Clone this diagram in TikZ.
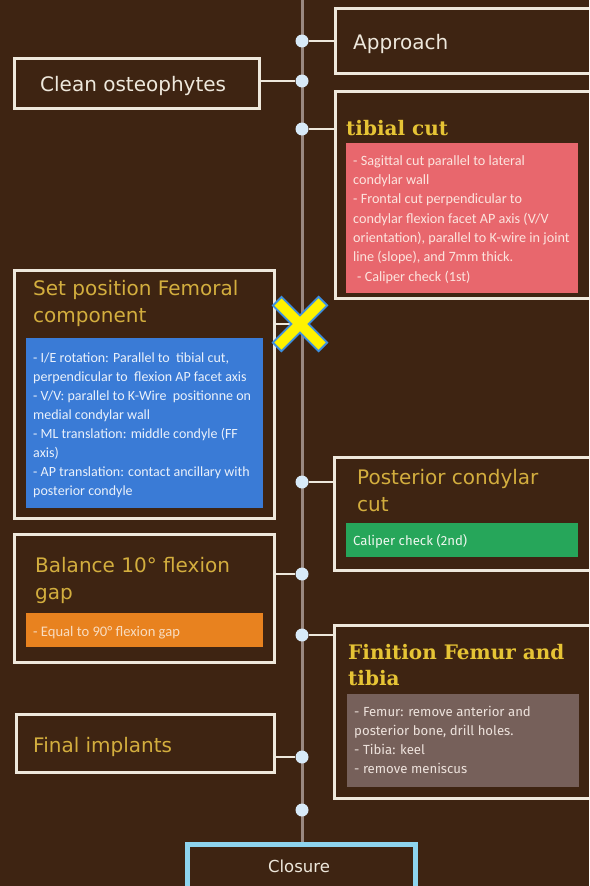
\documentclass[tikz,border=0pt]{standalone}
\usepackage{fontspec}
\setmainfont{DejaVu Sans}
\newfontfamily\smallfont{Carlito}
\newfontfamily\grayfont{Fira Sans}
\newfontfamily\slabfont{DejaVu Serif}
\definecolor{bgc}{HTML}{3E2412}
\definecolor{cream}{HTML}{EEE8DC}
\definecolor{spinec}{HTML}{9A8880}
\definecolor{dotc}{HTML}{D8EAF8}
\definecolor{goldc}{HTML}{D3AE3E}
\definecolor{yelc}{HTML}{E6C435}
\definecolor{pinkc}{HTML}{E8676D}
\definecolor{bluec}{HTML}{3A7BD6}
\definecolor{greenc}{HTML}{26A65A}
\definecolor{orangec}{HTML}{E8821F}
\definecolor{grayc}{HTML}{76605A}
\definecolor{closec}{HTML}{8ED4EE}
\definecolor{xyel}{HTML}{FFF200}
\definecolor{xblue}{HTML}{3D8FE0}
\definecolor{pinktxt}{HTML}{FCE4DE}
\definecolor{bluetxt}{HTML}{EAF1FB}
\definecolor{greentxt}{HTML}{EEF6EE}
\definecolor{orangetxt}{HTML}{F8DCC0}
\definecolor{graytxt}{HTML}{EDE2DC}
\pgfdeclarelayer{bglayer}
\pgfdeclarelayer{linelayer}
\pgfsetlayers{bglayer,linelayer,main}
\begin{document}
\begin{tikzpicture}[x=1pt,y=-1pt,
 frame/.style={draw=cream, line width=2.5pt, rectangle, inner sep=0pt, anchor=north west},
 panel/.style={rectangle, inner sep=0pt, anchor=north west, draw=none},
 dot/.style={circle, fill=dotc, minimum size=13pt, inner sep=0pt},
 conn/.style={draw=cream, line width=2pt},
 spine/.style={draw=spinec, line width=3pt},
 ttl/.style={text=goldc, font=\fontsize{20}{26.5}\selectfont, anchor=base west, inner sep=0pt, align=left},
 wtxt/.style={text=cream, font=\fontsize{20}{26}\selectfont, anchor=base west, inner sep=0pt},
 btxt/.style={text=yelc, font=\slabfont\fontsize{20}{26}\selectfont\bfseries, anchor=base west, inner sep=0pt, align=left},
 pinkstyle/.style={font=\smallfont\fontsize{14.2}{19.3}\selectfont, anchor=base west, inner sep=0pt, align=left, text=pinktxt},
 bluestyle/.style={font=\smallfont\fontsize{14}{19}\selectfont, anchor=base west, inner sep=0pt, align=left, text=bluetxt},
 orangestyle/.style={font=\smallfont\fontsize{14.6}{19}\selectfont, anchor=base west, inner sep=0pt, align=left, text=orangetxt},
 grtxt/.style={font=\grayfont\fontsize{13.2}{19}\selectfont, anchor=base west, inner sep=0pt, align=left, text=graytxt},
]
\useasboundingbox (0,0) rectangle (589,886);
\begin{pgfonlayer}{bglayer}
\fill[bgc] (0,0) rectangle (589,886);
\end{pgfonlayer}
\clip (0,0) rectangle (589,886);

% boxes
\node[frame, minimum width=275pt, minimum height=65pt] (approach) at (334,7) {};
\node[frame, minimum width=245pt, minimum height=50pt] (clean) at (13,57) {};
\node[frame, minimum width=275pt, minimum height=207pt] (tibial) at (334,90) {};
\node[panel, fill=pinkc, minimum width=232pt, minimum height=150pt] (pink) at (346,143) {};
\node[frame, minimum width=260pt, minimum height=248pt] (femoral) at (13,269) {};
\node[panel, fill=bluec, minimum width=237pt, minimum height=170pt] (blue) at (26,338) {};
\node[frame, minimum width=276pt, minimum height=113pt] (posterior) at (333,456) {};
\node[panel, fill=greenc, minimum width=232pt, minimum height=34pt] (green) at (346,523) {};
\node[frame, minimum width=260pt, minimum height=128pt] (balance) at (13,533) {};
\node[panel, fill=orangec, minimum width=237pt, minimum height=34pt] (orange) at (26,613) {};
\node[frame, minimum width=276pt, minimum height=173pt] (finition) at (333,624) {};
\node[panel, fill=grayc, minimum width=232pt, minimum height=93pt] (gray) at (347,694) {};
\node[frame, minimum width=258pt, minimum height=58pt] (final) at (15,713) {};
\node[frame, draw=closec, line width=5pt, minimum width=228pt, minimum height=50pt] (closure) at (185,842) {};

% dots
\node[dot] (d1) at (302,41) {};
\node[dot] (d2) at (302,81) {};
\node[dot] (d3) at (302,129) {};
\node[dot] (d4) at (302,482) {};
\node[dot] (d5) at (302,574) {};
\node[dot] (d6) at (302,635) {};
\node[dot] (d7) at (302,757) {};
\node[dot] (d8) at (302,810) {};
\coordinate (top) at (302,-5);
\coordinate (xm) at (300,324);

\begin{pgfonlayer}{linelayer}
\draw[spine] (top) -- (top |- closure.north);
\draw[conn] (d1) -- (d1 -| approach.west);
\draw[conn] (clean.east |- d2) -- (d2);
\draw[conn] (d3) -- (d3 -| tibial.west);
\draw[conn] (femoral.east |- xm) -- (xm);
\draw[conn] (d4) -- (d4 -| posterior.west);
\draw[conn] (balance.east |- d5) -- (d5);
\draw[conn] (d6) -- (d6 -| finition.west);
\draw[conn] (final.east |- d7) -- (d7);
\end{pgfonlayer}

% texts (multi-line nodes anchored at the baseline of their last line)
\node[wtxt] (tapproach) at (353,49) {Approach};
\node[wtxt] (tclean) at (40,91) {Clean osteophytes};
\node[btxt] (ttibial) at (346,135) {tibial cut};
\node[pinkstyle] (tpink) at (353,281) {- Sagittal cut parallel to lateral\\condylar wall\\- Frontal cut perpendicular to\\condylar flexion facet AP axis (V/V\\orientation), parallel to K-wire in joint\\line (slope), and 7mm thick.\\\hspace*{4pt}- Caliper check (1st)};
\node[ttl] (tfem) at (33,322) {Set position Femoral\\component};
\node[bluestyle] (tblue) at (33,495) {- I/E rotation: Parallel to\ \ tibial cut,\\perpendicular to\ \ flexion AP facet axis\\- V/V: parallel to K-Wire\ \ positionne on\\medial condylar wall\\- ML translation: middle condyle (FF\\axis)\\- AP translation: contact ancillary with\\posterior condyle};
\node[ttl] (tpost) at (357,511) {Posterior condylar\\cut};
\node[grtxt, text=greentxt] (tgreen) at (353,545) {Caliper check (2nd)};
\node[ttl] (tbal) at (35,599) {Balance 10° flexion\\gap};
\node[orangestyle] (torange) at (33,636) {- Equal to 90° flexion gap};
\node[btxt] (tfin) at (348,685) {Finition Femur and\\tibia};
\node[grtxt] (tgray) at (354,773) {- Femur: remove anterior and\\posterior bone, drill holes.\\- Tibia: keel\\- remove meniscus};
\node[ttl] (tfinal) at (33,752) {Final implants};
\node[wtxt, font=\fontsize{16.5}{20}\selectfont, anchor=base] (tclosure) at (299,872) {Closure};

% yellow cross
\draw[xblue, line width=14pt] ([shift={(-23.5,-23.5)}]xm) -- ([shift={(23.5,23.5)}]xm);
\draw[xblue, line width=14pt] ([shift={(-23.5,23.5)}]xm) -- ([shift={(23.5,-23.5)}]xm);
\draw[xyel, line width=10pt] ([shift={(-22,-22)}]xm) -- ([shift={(22,22)}]xm);
\draw[xyel, line width=10pt] ([shift={(-22,22)}]xm) -- ([shift={(22,-22)}]xm);
\end{tikzpicture}
\end{document}
